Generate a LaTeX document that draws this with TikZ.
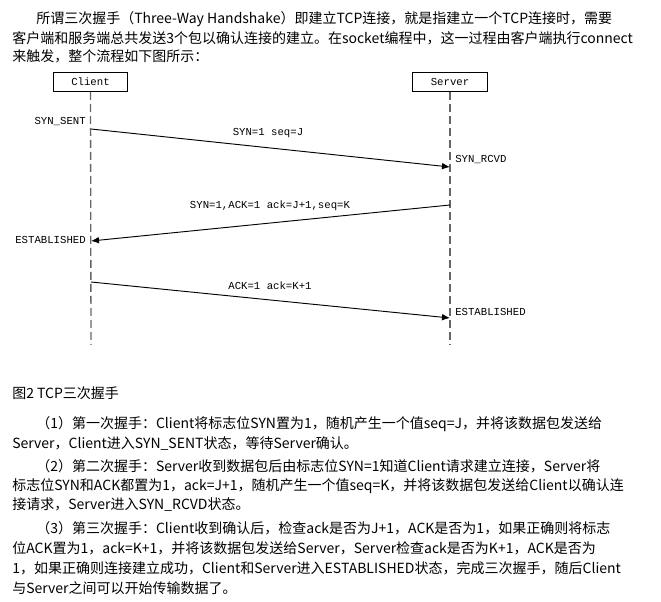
\documentclass[tikz,border=0pt]{standalone}
\usepackage{fontspec}
\newfontfamily\cjk{Noto Sans CJK SC}
\newfontfamily\dmono{Liberation Mono}
\usetikzlibrary{arrows.meta}
\begin{document}
\begin{tikzpicture}[x=0.75pt,y=-0.75pt,
  txt/.style={anchor=west,inner sep=0pt,font=\cjk\fontsize{10.5}{12}\selectfont},
  lbl/.style={inner sep=0pt,font=\dmono\fontsize{8}{9}\selectfont},
  head/.style={draw,line width=0.8pt,minimum width=56pt,minimum height=14pt,inner sep=0pt,font=\dmono\fontsize{8}{9}\selectfont},
  life/.style={draw=gray!80!black,line width=1pt,dash pattern=on 6pt off 3pt},
  msg/.style={line width=0.7pt,-{Latex[length=6pt,width=5pt]}}]
\useasboundingbox (0,0) rectangle (661,602);
\node[txt] at (36,19) {所谓三次握手（Three-Way Handshake）即建立TCP连接，就是指建立一个TCP连接时，需要};
\node[txt] at (12,38) {客户端和服务端总共发送3个包以确认连接的建立。在socket编程中，这一过程由客户端执行connect};
\node[txt] at (12,56) {来触发，整个流程如下图所示：};
\node[head] (c) at (90.5,82) {Client};
\node[head] (s) at (450,82) {Server};
\coordinate (cb) at (91,345); \coordinate (sb) at (450,345);
\draw[life] (c.south) -- (cb);
\draw[life] (s.south) -- (sb);
\coordinate (c1) at (91,129); \coordinate (s1) at (450,167);
\coordinate (s2) at (450,205); \coordinate (c2) at (91,241);
\coordinate (c3) at (91,282); \coordinate (s3) at (450,318);
\draw[msg] (c1) -- (s1);
\draw[msg] (s2) -- (c2);
\draw[msg] (c3) -- (s3);
\node[lbl,anchor=east] at (86,122) {SYN\_SENT};
\node[lbl] at (268,133) {SYN=1 seq=J};
\node[lbl,anchor=west] at (455,160) {SYN\_RCVD};
\node[lbl] at (270,206) {SYN=1,ACK=1 ack=J+1,seq=K};
\node[lbl,anchor=east] at (86,240) {ESTABLISHED};
\node[lbl] at (270,286) {ACK=1 ack=K+1};
\node[lbl,anchor=west] at (455,312) {ESTABLISHED};
\node[txt] at (12,393) {图2 TCP三次握手};
\node[txt] at (36,424) {（1）第一次握手：Client将标志位SYN置为1，随机产生一个值seq=J，并将该数据包发送给};
\node[txt] at (12,444) {Server，Client进入SYN\_SENT状态，等待Server确认。};
\node[txt] at (36,466) {（2）第二次握手：Server收到数据包后由标志位SYN=1知道Client请求建立连接，Server将};
\node[txt] at (12,486) {标志位SYN和ACK都置为1，ack=J+1，随机产生一个值seq=K，并将该数据包发送给Client以确认连};
\node[txt] at (12,505) {接请求，Server进入SYN\_RCVD状态。};
\node[txt] at (36,528) {（3）第三次握手：Client收到确认后，检查ack是否为J+1，ACK是否为1，如果正确则将标志};
\node[txt] at (12,548) {位ACK置为1，ack=K+1，并将该数据包发送给Server，Server检查ack是否为K+1，ACK是否为};
\node[txt] at (12,568) {1，如果正确则连接建立成功，Client和Server进入ESTABLISHED状态，完成三次握手，随后Client};
\node[txt] at (12,588) {与Server之间可以开始传输数据了。};
\end{tikzpicture}
\end{document}
